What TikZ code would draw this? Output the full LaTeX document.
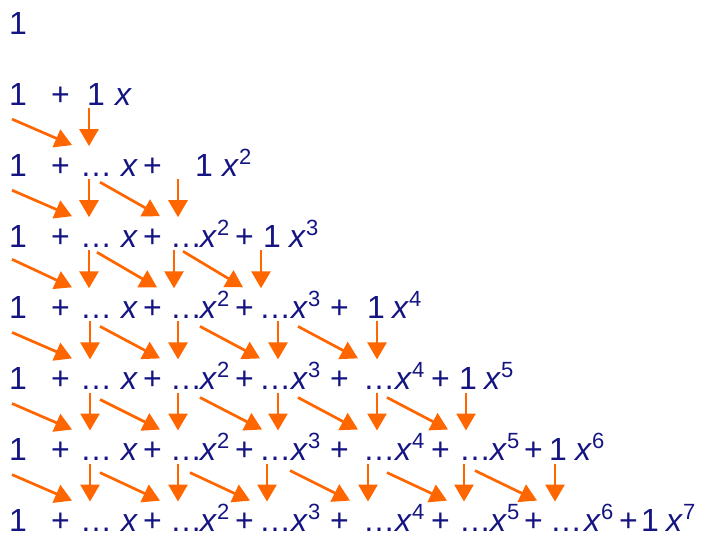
\documentclass[tikz,border=0pt]{standalone}
\usepackage{fontspec}
\setmainfont{Liberation Sans}
\usetikzlibrary{arrows.meta}
\definecolor{termBlue}{RGB}{20,20,130}
\definecolor{arrowOrange}{RGB}{255,102,0}
\newcommand{\xpow}[1]{\textit{x}\ifnum#1>1 \raisebox{12pt}{\fontsize{22}{22}\selectfont #1}\fi}

\begin{document}
\begin{tikzpicture}[
    x=1pt, y=-1pt,
    term/.style={anchor=base west, inner sep=0pt, text=termBlue, font=\fontsize{32}{38}\selectfont},
    arrowOr/.style={draw=arrowOrange, line width=2.7pt, -{Triangle[length=17pt, width=19pt]}}
]
    \useasboundingbox (0,0) rectangle (701,539);

    % Leading ones
    \foreach \r in {0,...,7} {
        \pgfmathsetmacro\b{34+71.1*\r}
        \node [term] (one-\r) at (9,\b) {1};
    }

    % First plus and last term 1 x^r of each row
    \foreach \r/\fx/\gx in {1/87/115, 2/195/222, 3/263/289, 4/367/392, 5/459/484, 6/549/575, 7/641/666} {
        \pgfmathsetmacro\b{34+71.1*\r}
        \node [term] (plus-\r-0) at (51,\b) {+};
        \node [term] (c-\r-\r) at (\fx,\b) {1};
        \node [term] (x-\r-\r) at (\gx,\b) {\xpow{\r}};
    }

    % Middle terms ...x^k +
    \foreach \k/\dx/\tx/\px in {1/80/121/143, 2/170/200/235, 3/259/291/330, 4/363/395/431, 5/459/490/524, 6/550/584/619} {
        \pgfmathtruncatemacro\first{\k+1}
        \foreach \r in {\first,...,7} {
            \pgfmathsetmacro\b{34+71.1*\r}
            \node [term] (c-\r-\k) at (\dx,\b) {\ldots};
            \node [term] (x-\r-\k) at (\tx,\b) {\xpow{\k}};
            \node [term] (plus-\r-\k) at (\px,\b) {+};
        }
    }

    % Arrows row r -> r+1: column / down x / diagonal tail x / diagonal tip x / tail drop
    \foreach \r/\k/\d/\s/\e/\o in {
        1/1/89/12/72/14,
        2/1/89/12/72/14, 2/2/178/100/160/6,
        3/1/89/12/72/12, 3/2/174/97/157/5, 3/3/261/183/243/4,
        4/1/90/12/72/14, 4/2/178/100/160/8, 4/3/278/200/260/8, 4/4/377/298/358/8,
        5/1/90/12/72/14, 5/2/178/100/160/10, 5/3/278/200/262/8, 5/4/377/298/358/8, 5/5/466/387/448/8,
        6/1/90/12/72/14, 6/2/178/100/160/12, 6/3/267/190/250/12, 6/4/368/290/350/10, 6/5/464/387/447/12, 6/6/555/475/537/10
    } {
        \pgfmathsetmacro\b{34+71.1*\r}
        \coordinate (dtop-\r-\k) at (\d,\b+3);
        \coordinate (dtip-\r-\k) at (\d,\b+41);
        \coordinate (stail-\r-\k) at (\s,\b+\o);
        \coordinate (stip-\r-\k) at (\e,\b+40);
        \draw [arrowOr] (dtop-\r-\k) -- (dtip-\r-\k);
        \draw [arrowOr] (stail-\r-\k) -- (stip-\r-\k);
    }
\end{tikzpicture}
\end{document}
